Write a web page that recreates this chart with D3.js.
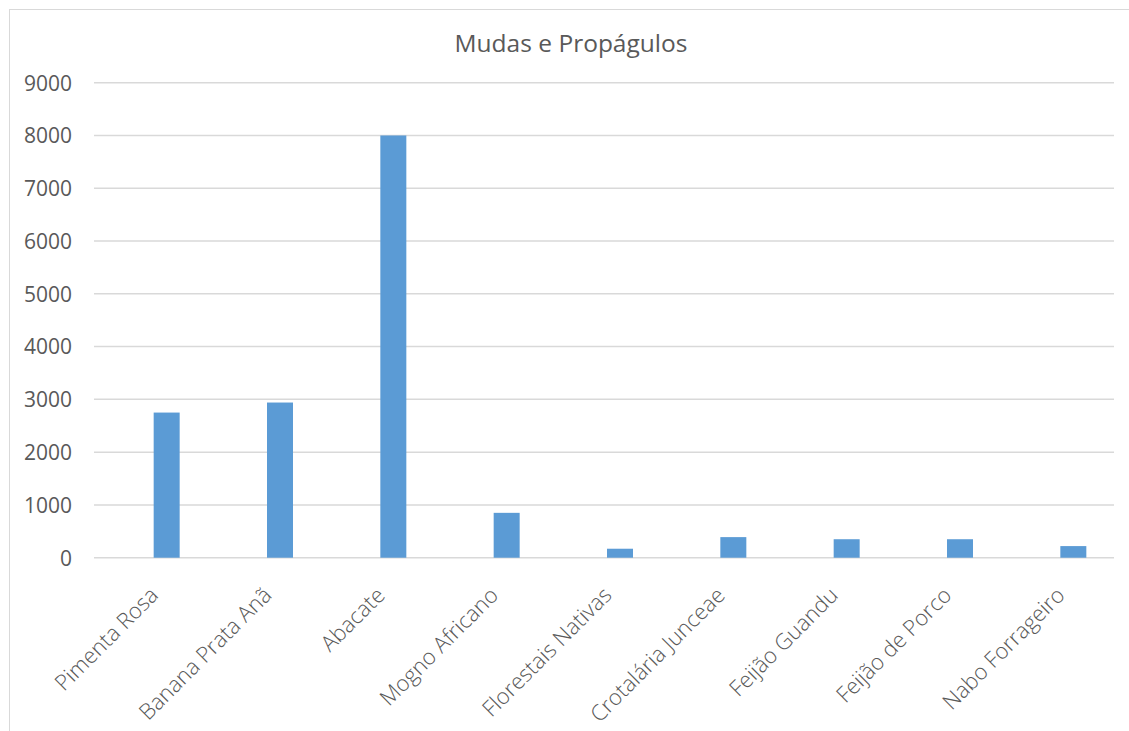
<!DOCTYPE html>
<html>
<head>
<meta charset="utf-8">
<script src="https://cdn.jsdelivr.net/npm/d3@7"></script>
<style>
  html, body { margin: 0; padding: 0; background: #fff; }
  svg { display: block; }
  text { font-family: "Open Sans", "Noto Sans", sans-serif; fill: #595959; }
</style>
</head>
<body>
<svg id="chart" width="1129" height="731"></svg>
<script>
// Mudas e propágulos por espécie
const categories = [
  "Pimenta Rosa", "Banana Prata Anã", "Abacate", "Mogno Africano",
  "Florestais Nativas", "Crotalária Junceae", "Feijão Guandu",
  "Feijão de Porco", "Nabo Forrageiro"
];
const values = [2750, 2940, 8000, 850, 170, 390, 350, 350, 220];
const yTicks = [0, 1000, 2000, 3000, 4000, 5000, 6000, 7000, 8000, 9000];
const title = "Mudas e Propágulos";

const svg = d3.select("#chart");
const W = 1129, H = 731;
const plot = { left: 94, right: 1114, top: 82.7, bottom: 557.7 };

// Chart frame
svg.append("rect")
  .attr("x", 9.5).attr("y", 9.5)
  .attr("width", W + 10).attr("height", H + 10)
  .attr("fill", "none").attr("stroke", "#d9d9d9").attr("stroke-width", 1);

const x = d3.scaleBand().domain(categories).range([plot.left, plot.right]).padding(0);
const y = d3.scaleLinear().domain([0, 9000]).range([plot.bottom, plot.top]);

// Horizontal gridlines
svg.append("g")
  .selectAll("line")
  .data(yTicks)
  .join("line")
  .attr("x1", plot.left).attr("x2", plot.right)
  .attr("y1", d => y(d)).attr("y2", d => y(d))
  .attr("stroke", "#d9d9d9").attr("stroke-width", 1.5);

// Y axis labels
const yAxis = d3.axisLeft(y).tickValues(yTicks).tickFormat(d3.format("d")).tickSize(0).tickPadding(0);
const gy = svg.append("g").attr("transform", "translate(72,0)").call(yAxis);
gy.select(".domain").remove();
gy.selectAll("text")
  .attr("font-size", "21px")
  .attr("fill", "#595959")
  .style("font-family", "'Open Sans', sans-serif")
  .style("font-weight", 400)
  .attr("dy", "0.35em");

// Bars (placed slightly right of the category center, like a clustered slot)
const barWidth = 26;
const barShift = 16;
svg.append("g")
  .selectAll("rect")
  .data(categories.map((c, i) => ({ c, v: values[i] })))
  .join("rect")
  .attr("x", d => x(d.c) + x.bandwidth() / 2 + barShift - barWidth / 2)
  .attr("y", d => y(d.v))
  .attr("width", barWidth)
  .attr("height", d => y(0) - y(d.v))
  .attr("fill", "#5b9bd5");

// Category labels, rotated -45°
const xAxis = d3.axisBottom(x).tickSize(0).tickPadding(0);
const gx = svg.append("g").attr("transform", `translate(-2,${plot.bottom + 28})`).call(xAxis);
gx.select(".domain").remove();
gx.selectAll("text")
  .attr("font-size", "22px")
  .attr("fill", "#666666")
  .style("font-family", "'Open Sans', sans-serif")
  .style("font-weight", 300)
  .attr("text-anchor", "end")
  .attr("dy", "0.7em")
  .attr("transform", "rotate(-45)");

// Title
svg.append("text")
  .attr("x", 571).attr("y", 52)
  .attr("text-anchor", "middle")
  .attr("font-size", "24.5px")
  .style("font-weight", 400)
  .text(title);
</script>
</body>
</html>
